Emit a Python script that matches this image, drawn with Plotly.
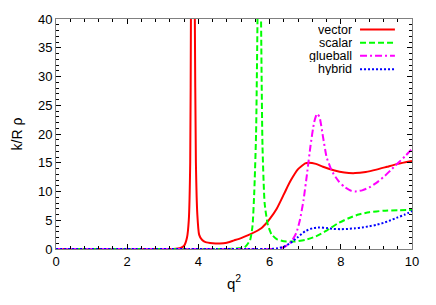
import plotly.graph_objects as go

# ---- data ----
vector_x = [0, 1, 2, 3, 3.3, 3.5, 3.6, 3.68, 3.73, 3.77, 3.79, 3.82, 3.84, 3.87, 3.90, 3.93, 3.97, 4.02,
            4.1, 4.2, 4.4, 4.6, 4.8, 5.0, 5.2, 5.4, 5.6, 5.8, 6.0, 6.2, 6.4, 6.5, 6.6, 6.8, 7.0, 7.1,
            7.3, 7.5, 7.8, 8.1, 8.4, 8.7, 9.0, 9.3, 9.6, 10.0]
vector_y = [0, 0, 0, 0, 0.02, 0.2, 0.6, 2.0, 5.0, 15, 40, 120, 150, 120, 40, 15, 6.0, 2.5,
            1.6, 1.2, 1.0, 0.95, 1.1, 1.5, 1.9, 2.4, 3.0, 3.8, 5.2, 7.0, 9.5, 10.8, 12.0, 13.9, 14.9, 15.0,
            14.8, 14.3, 13.7, 13.3, 13.2, 13.4, 13.8, 14.3, 14.8, 15.3]

scalar_x = [0, 2, 4, 5.0, 5.3, 5.45, 5.52, 5.57, 5.62, 5.66, 5.71, 5.76, 5.80, 5.86, 5.95, 6.05, 6.2,
            6.4, 6.7, 7.0, 7.3, 7.6, 7.9, 8.2, 8.5, 8.8, 9.2, 9.6, 10.0]
scalar_y = [0, 0, 0, 0.05, 0.3, 1.5, 4.0, 10, 20, 40, 80, 40, 18, 8.0, 4.2, 2.6, 1.7,
            1.35, 1.3, 1.6, 2.2, 3.2, 4.4, 5.3, 6.0, 6.4, 6.65, 6.75, 6.8]

glueball_x = [0, 2, 4, 6.0, 6.2, 6.4, 6.6, 6.75, 6.85, 6.95, 7.05, 7.15, 7.25, 7.33, 7.4, 7.5, 7.6,
              7.7, 7.8, 7.95, 8.1, 8.3, 8.4, 8.6, 8.8, 9.0, 9.2, 9.4, 9.6, 9.8, 10.0]
glueball_y = [0, 0, 0, 0, 0.05, 0.3, 1.2, 2.8, 5.0, 8.4, 13.0, 18.0, 22.0, 23.5, 23.0, 19.5, 16.0,
              14.3, 13.0, 11.7, 10.8, 10.1, 10.0, 10.2, 10.7, 11.5, 12.5, 13.7, 14.9, 16.1, 17.4]

hybrid_x = [0, 2, 4, 6.0, 6.2, 6.4, 6.6, 6.8, 7.0, 7.2, 7.4, 7.6, 7.8, 8.0, 8.2, 8.4, 8.6, 8.8,
            9.0, 9.2, 9.4, 9.6, 9.8, 10.0]
hybrid_y = [0, 0, 0, 0, 0.1, 0.4, 1.1, 2.1, 3.1, 3.6, 3.75, 3.65, 3.5, 3.45, 3.5, 3.6, 3.75, 3.95,
            4.2, 4.55, 5.0, 5.5, 6.0, 6.6]

series_names = ["vector", "scalar", "glueball", "hybrid"]
series_colors = ["#ff0000", "#00ff00", "#ff00ff", "#0000ff"]
series_dash = ["solid", "6px,3px", "7px,3px,2px,3px", "2px,2px"]

x_tickvals = [0, 2, 4, 6, 8, 10]
y_tickvals = [0, 5, 10, 15, 20, 25, 30, 35, 40]

FONT = "Liberation Sans, Arial, Helvetica, sans-serif"

fig = go.Figure()
for (xs, ys), name, col, dash in zip(
        [(vector_x, vector_y), (scalar_x, scalar_y), (glueball_x, glueball_y), (hybrid_x, hybrid_y)],
        series_names, series_colors, series_dash):
    fig.add_trace(go.Scatter(x=xs, y=ys, mode="lines", name=name,
                             line=dict(color=col, width=2, dash=dash, shape="spline", smoothing=0.5),
                             showlegend=False, hoverinfo="skip"))

# gnuplot-style legend (text right-aligned, sample line to the right)
leg_y = [0.954, 0.897, 0.840, 0.782]
for name, col, dash, yy in zip(series_names, series_colors, series_dash, leg_y):
    fig.add_annotation(x=0.833, y=yy, xref="paper", yref="paper", text=name, showarrow=False,
                       xanchor="right", yanchor="middle", height=12, borderpad=0,
                       font=dict(family=FONT, size=12.5, color="black"))
    fig.add_shape(type="line", xref="paper", yref="paper", x0=0.854, x1=0.952, y0=yy, y1=yy,
                  line=dict(color=col, width=2, dash=dash))

axis_common = dict(showgrid=False, zeroline=False, showline=True, mirror="allticks",
                   linecolor="#808080", linewidth=1, ticks="inside", tickcolor="black",
                   ticklen=5, tickwidth=1,
                   tickfont=dict(family=FONT, size=13, color="black"))

fig.update_xaxes(range=[0, 10], tickvals=x_tickvals, ticktext=[str(v) for v in x_tickvals],
                 minor=dict(dtick=0.4, ticks="inside", ticklen=3, tickcolor="black", tick0=0),
                 title=dict(text="q<sup>2</sup>", font=dict(family=FONT, size=15, color="black"), standoff=10),
                 **axis_common)
fig.update_yaxes(range=[0, 40], tickvals=y_tickvals, ticktext=[str(v) for v in y_tickvals],
                 minor=dict(dtick=1, ticks="inside", ticklen=3, tickcolor="black", tick0=0),
                 title=dict(text="k/R ρ", font=dict(family=FONT, size=14, color="black"), standoff=12),
                 **axis_common)

fig.update_layout(width=436, height=305, margin=dict(l=56, r=24, t=16, b=56),
                  paper_bgcolor="white", plot_bgcolor="white", showlegend=False)

fig.write_html("out.html", config={"displayModeBar": False},
               post_script="document.body.style.margin='0';document.body.style.padding='0';")
